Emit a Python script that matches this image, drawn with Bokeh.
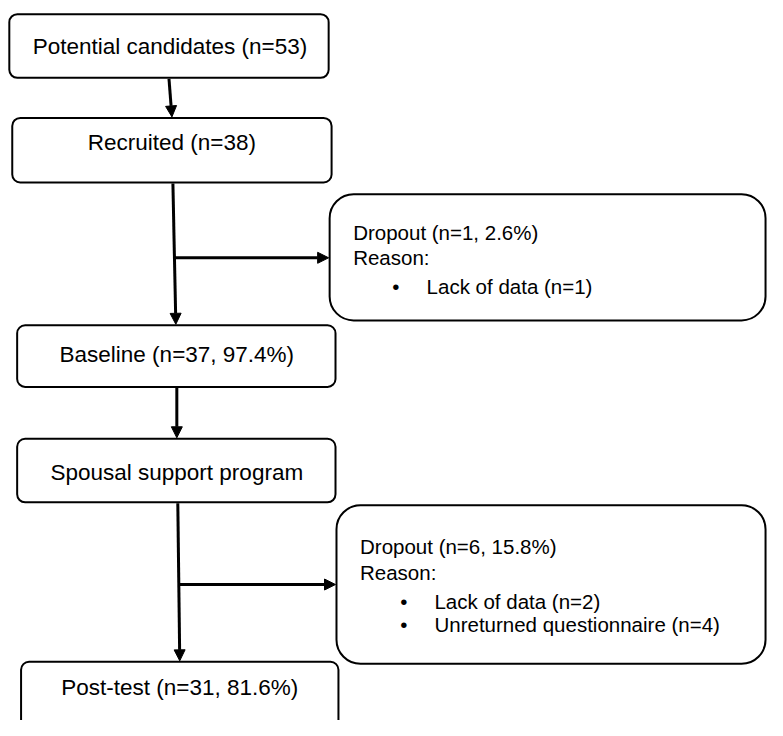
from bokeh.plotting import figure
from bokeh.models import Range1d, Arrow, NormalHead, ColumnDataSource
from bokeh.core.properties import value
from bokeh.embed import file_html
from bokeh.resources import INLINE

# ---- content ----
stage_labels = [
    "Potential candidates (n=53)",
    "Recruited (n=38)",
    "Baseline (n=37, 97.4%)",
    "Spousal support program",
    "Post-test (n=31, 81.6%)",
]
dropout1_head = ["Dropout (n=1, 2.6%)", "Reason:"]
dropout1_items = ["Lack of data (n=1)"]
dropout2_head = ["Dropout (n=6, 15.8%)", "Reason:"]
dropout2_items = ["Lack of data (n=2)", "Unreturned questionnaire (n=4)"]

# ---- layout (pixel-like coordinates, y downward) ----
stage_left = [9, 12, 17, 17, 21]
stage_right = [335, 338, 342, 342, 345]
stage_top = [14, 120, 332, 448, 676]
stage_bottom = [79, 186, 395, 513, 745]
stage_tx = [173, 175, 180, 180, 183]
stage_ty = [47, 145, 362, 482, 702]

drop_left = [336, 343]
drop_right = [781, 781]
drop_top = [198, 516]
drop_bottom = [327, 678]

FONT = value("Liberation Sans")

p = figure(width=767, height=720, output_backend="svg", toolbar_location=None,
           x_range=Range1d(0, 783), y_range=Range1d(736, 0), min_border=0)
p.axis.visible = False
p.grid.visible = False
p.outline_line_color = None
p.background_fill_color = "white"
p.border_fill_color = "white"

src = ColumnDataSource(dict(left=stage_left, right=stage_right, top=stage_top, bottom=stage_bottom))
p.quad(left="left", right="right", top="top", bottom="bottom", source=src,
       fill_color="white", line_color="black", line_width=2, border_radius=8)

dsrc = ColumnDataSource(dict(left=drop_left, right=drop_right, top=drop_top, bottom=drop_bottom))
p.quad(left="left", right="right", top="top", bottom="bottom", source=dsrc,
       fill_color="white", line_color="black", line_width=2, border_radius=24)

p.text(x=stage_tx, y=stage_ty, text=stage_labels, text_font=FONT, text_font_size="22.5px",
       text_align="center", text_baseline="middle", text_color="black")

# dropout box 1 texts
p.text(x=[360, 360], y=[237, 263], text=dropout1_head, text_font=FONT, text_font_size="20.5px",
       text_align="left", text_baseline="middle", text_color="black")
p.text(x=[400] * len(dropout1_items), y=[292], text=["\u2022"] * len(dropout1_items), text_font=FONT,
       text_font_size="20.5px", text_align="left", text_baseline="middle", text_color="black")
p.text(x=[435], y=[292], text=dropout1_items, text_font=FONT, text_font_size="20.5px",
       text_align="left", text_baseline="middle", text_color="black")

# dropout box 2 texts
p.text(x=[367, 367], y=[558, 585], text=dropout2_head, text_font=FONT, text_font_size="20.5px",
       text_align="left", text_baseline="middle", text_color="black")
p.text(x=[408, 408], y=[614, 638], text=["\u2022"] * len(dropout2_items), text_font=FONT,
       text_font_size="20.5px", text_align="left", text_baseline="middle", text_color="black")
p.text(x=[443, 443], y=[614, 638], text=dropout2_items, text_font=FONT, text_font_size="20.5px",
       text_align="left", text_baseline="middle", text_color="black")

arrows = [
    (172, 80, 175, 119),
    (176, 187, 179, 331),
    (177, 263, 335, 263),
    (180, 396, 180, 447),
    (181, 514, 183, 675),
    (182, 597, 342, 597),
]
for x0, y0, x1, y1 in arrows:
    p.add_layout(Arrow(end=NormalHead(size=11, fill_color="black", line_color="black", line_width=1),
                       x_start=x0, y_start=y0, x_end=x1, y_end=y1,
                       line_width=3, line_color="black"))

open("out.html", "w").write(file_html(p, INLINE))
